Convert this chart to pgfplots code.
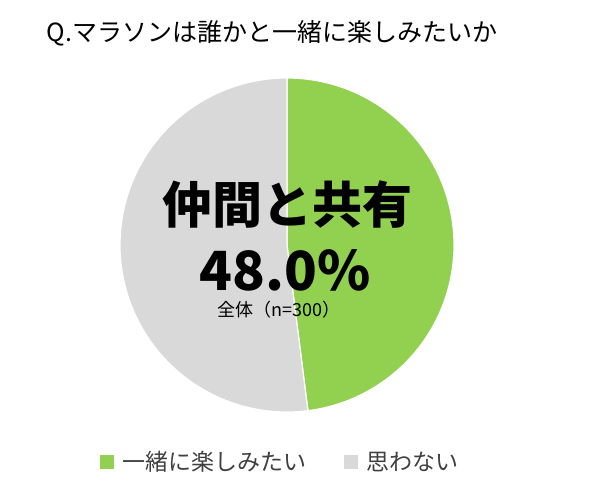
\documentclass[border=0pt]{standalone}
\usepackage{pgfplots}
\pgfplotsset{compat=1.18}
\usepackage{pgfplotstable}
\usepgfplotslibrary{polar}
\usepackage{fontspec}
\setmainfont{Noto Sans CJK JP}
\definecolor{pgreen}{HTML}{92D050}
\definecolor{pgray}{HTML}{D9D9D9}
\definecolor{ltext}{HTML}{404040}
\pgfplotstableread{
label value
一緒に楽しみたい 48.0
思わない 52.0
}\piedata
\pgfplotstablegetelem{0}{value}\of\piedata
\let\valA\pgfplotsretval
\pgfmathsetmacro\angA{90-3.6*\valA}
\begin{document}
\begin{tikzpicture}[x=1pt,y=1pt]
\useasboundingbox (0,0) rectangle (615,489);
\begin{polaraxis}[
  at={(287pt,244pt)}, anchor=origin,
  width=334pt, height=334pt, scale only axis,
  hide axis, ymin=0, ymax=1, clip=false,
]
\addplot[fill=pgreen, draw=white, line width=1.2pt, domain=\angA:90, samples=200, no markers] {1} -- (axis cs:0,0) -- cycle;
\addplot[fill=pgray, draw=white, line width=1.2pt, domain=-270:\angA, samples=200, no markers] {1} -- (axis cs:0,0) -- cycle;
\end{polaraxis}
\node[anchor=west, font=\fontsize{25}{29}\selectfont] at (43,456) {Q.マラソンは誰かと一緒に楽しみたいか};
\node[font=\fontsize{50}{56}\bfseries\selectfont] at (287,284) {仲間と共有};
\node[font=\fontsize{54}{60}\bfseries\selectfont] at (285,219) {48.0\%};
\node[font=\fontsize{18}{21}\selectfont] at (279,179) {全体（n=300）};
\fill[pgreen] (100,20) rectangle (114,34);
\node[anchor=west, text=ltext, font=\fontsize{23}{27}\selectfont] at (119,27) {一緒に楽しみたい};
\fill[pgray] (344,20) rectangle (358,34);
\node[anchor=west, text=ltext, font=\fontsize{23}{27}\selectfont] at (363,27) {思わない};
\end{tikzpicture}
\end{document}
